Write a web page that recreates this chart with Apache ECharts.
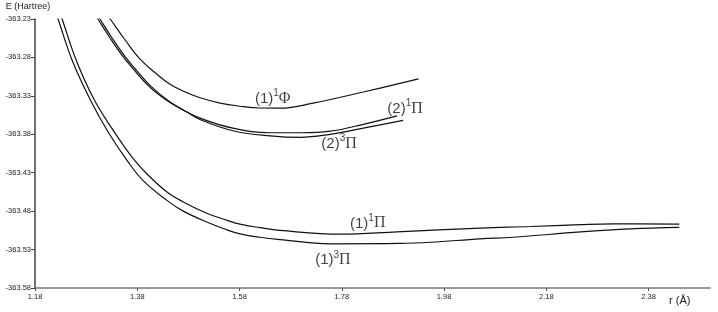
<!DOCTYPE html>
<html lang="en">
<head>
    <meta charset="UTF-8">
    <title>Potential energy curves</title>
    <script src="https://cdn.jsdelivr.net/npm/echarts@6/dist/echarts.min.js"></script>
    <style>
        html, body { margin: 0; padding: 0; background: #fff; }
        #graph { width: 718px; height: 312px; }
    </style>
</head>
<body>
<div id="graph"></div>
<script>
    // tick labels
    var rTicks = [1.18, 1.38, 1.58, 1.78, 1.98, 2.18, 2.38];
    var eTicks = [-363.58, -363.53, -363.48, -363.43, -363.38, -363.33, -363.28, -363.23];

    // curves [r (Å), E (Hartree)]
    var pi3_1 = [
        [1.205, -363.191], [1.225, -363.230], [1.254, -363.286], [1.288, -363.335],
        [1.323, -363.377], [1.360, -363.414], [1.391, -363.440], [1.438, -363.466],
        [1.470, -363.480], [1.517, -363.4945], [1.556, -363.5045], [1.581, -363.5095],
        [1.620, -363.514], [1.659, -363.517], [1.757, -363.5225], [1.894, -363.522],
        [1.953, -363.5205], [2.051, -363.516], [2.115, -363.514], [2.247, -363.507],
        [2.344, -363.503], [2.440, -363.501]
    ];
    var pi1_1 = [
        [1.213, -363.191], [1.233, -363.230], [1.262, -363.286], [1.295, -363.334],
        [1.333, -363.375], [1.370, -363.410], [1.401, -363.433], [1.438, -363.455],
        [1.470, -363.468], [1.517, -363.483], [1.556, -363.492], [1.581, -363.497],
        [1.620, -363.5015], [1.659, -363.505], [1.777, -363.510], [1.888, -363.507],
        [2.051, -363.502], [2.149, -363.500], [2.247, -363.4975], [2.311, -363.4965],
        [2.440, -363.4968]
    ];
    var phi1_1 = [
        [1.299, -363.204], [1.327, -363.230], [1.356, -363.257], [1.385, -363.282],
        [1.415, -363.300], [1.444, -363.315], [1.474, -363.325], [1.503, -363.3325],
        [1.542, -363.3395], [1.581, -363.3435], [1.620, -363.3458], [1.660, -363.346],
        [1.724, -363.3394], [1.822, -363.325], [1.930, -363.308]
    ];
    var pi1_2 = [
        [1.278, -363.204], [1.303, -363.230], [1.327, -363.255], [1.350, -363.277],
        [1.372, -363.295], [1.405, -363.319], [1.438, -363.336], [1.474, -363.350],
        [1.503, -363.359], [1.567, -363.372], [1.640, -363.378], [1.699, -363.378],
        [1.757, -363.376], [1.822, -363.367], [1.888, -363.356]
    ];
    var pi3_2 = [
        [1.282, -363.204], [1.307, -363.230], [1.331, -363.255], [1.354, -363.277],
        [1.376, -363.295], [1.409, -363.319], [1.442, -363.337], [1.477, -363.351],
        [1.507, -363.362], [1.571, -363.376], [1.640, -363.382], [1.699, -363.384],
        [1.757, -363.380], [1.822, -363.372], [1.900, -363.362]
    ];

    // state labels: [r, E, n, spin, symbol]
    var stateLabels = [
        [1.610, -363.332, '1', '1', 'Φ'],
        [1.869, -363.345, '2', '1', 'Π'],
        [1.740, -363.391, '2', '3', 'Π'],
        [1.796, -363.494, '1', '1', 'Π'],
        [1.728, -363.542, '1', '3', 'Π']
    ];

    var myChart = echarts.init(document.getElementById('graph'));

    function curve(name, data) {
        return {
            name: name,
            type: 'line',
            data: data,
            smooth: 0.4,
            showSymbol: false,
            lineStyle: { color: '#111', width: 1.2 }
        };
    }

    var option = {
        animation: false,
        textStyle: { fontFamily: 'Liberation Sans, Arial, sans-serif' },
        grid: { left: 35, right: 8, top: 19, bottom: 24 },
        xAxis: {
            type: 'value',
            min: 1.18,
            max: 2.5,
            name: 'r (Å)',
            nameLocation: 'end',
            nameGap: -41,
            nameTextStyle: { fontSize: 11, color: '#222', align: 'left', verticalAlign: 'top', padding: [7, 0, 0, 0] },
            axisLine: { lineStyle: { color: '#777', width: 1.5 } },
            axisTick: { length: 3, customValues: rTicks, lineStyle: { color: '#555' } },
            axisLabel: {
                customValues: rTicks,
                fontSize: 7.5,
                color: '#222',
                margin: 5,
                formatter: function (v) { return v.toFixed(2); }
            },
            splitLine: { show: false }
        },
        yAxis: {
            type: 'value',
            min: -363.58,
            max: -363.23,
            name: 'E (Hartree)',
            nameLocation: 'end',
            nameGap: 8,
            nameTextStyle: { fontSize: 9, color: '#222', padding: [0, 14, 0, 0] },
            axisLine: { show: true, lineStyle: { color: '#444', width: 1.5 } },
            axisTick: { show: true, length: 4, customValues: eTicks, lineStyle: { color: '#444' } },
            axisLabel: {
                customValues: eTicks,
                fontSize: 7.5,
                color: '#222',
                margin: 4,
                formatter: function (v) { return v.toFixed(2); }
            },
            splitLine: { show: false }
        },
        series: [
            curve('(1)3Π', pi3_1),
            curve('(1)1Π', pi1_1),
            curve('(1)1Φ', phi1_1),
            curve('(2)1Π', pi1_2),
            curve('(2)3Π', pi3_2),
            {
                name: 'labels',
                type: 'scatter',
                symbolSize: 0,
                silent: true,
                data: stateLabels.map(function (s) { return { value: [s[0], s[1]], lab: s }; }),
                label: {
                    show: true,
                    position: 'right',
                    distance: 0,
                    formatter: function (p) {
                        var s = p.data.lab;
                        return '{a|(' + s[2] + ')}{s|' + s[3] + '}{g|' + s[4] + '}';
                    },
                    rich: {
                        a: { fontSize: 15, color: '#111', fontFamily: 'Liberation Sans', verticalAlign: 'bottom', lineHeight: 18 },
                        s: { fontSize: 10, color: '#111', fontFamily: 'Liberation Sans', verticalAlign: 'top', lineHeight: 18 },
                        g: { fontSize: 16, color: '#111', fontFamily: 'Liberation Serif', verticalAlign: 'bottom', lineHeight: 18 }
                    }
                }
            }
        ]
    };

    myChart.setOption(option);
</script>
</body>
</html>
